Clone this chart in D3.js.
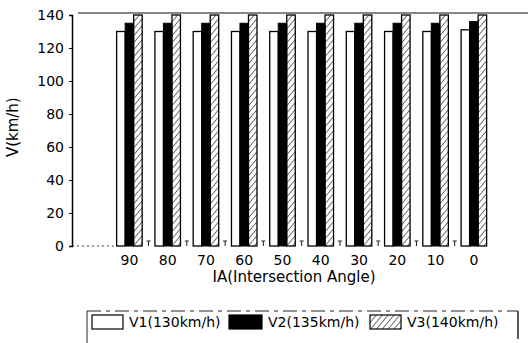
<!DOCTYPE html>
<html>
<head>
<meta charset="utf-8">
<script src="https://cdn.jsdelivr.net/npm/d3@7"></script>
<style>
    body { margin: 0; background: #fff; }
    svg { display: block; font-family: "DejaVu Sans", sans-serif; }
</style>
</head>
<body>
<div id="chart"></div>
<script>
// data
const angles = ["90", "80", "70", "60", "50", "40", "30", "20", "10", "0"];
const seriesNames = ["V1(130km/h)", "V2(135km/h)", "V3(140km/h)"];
const v1 = [130, 130, 130, 130, 130, 130, 130, 130, 130, 131];
const v2 = [135, 135, 135, 135, 135, 135, 135, 135, 135, 136];
const v3 = [140, 140, 140, 140, 140, 140, 140, 140, 140, 140];
const yTicks = [0, 20, 40, 60, 80, 100, 120, 140];

const data = angles.map((a, i) => ({ angle: a, values: [v1[i], v2[i], v3[i]] }));

const width = 528, height = 343;
const margin = { top: 15, right: 35, bottom: 97, left: 72 };

const svg = d3.select("#chart").append("svg")
    .attr("width", width)
    .attr("height", height);

// hatch pattern for V3
svg.append("defs").append("pattern")
    .attr("id", "hatch")
    .attr("patternUnits", "userSpaceOnUse")
    .attr("width", 4.5).attr("height", 4.5)
    .attr("patternTransform", "rotate(40)")
    .append("line")
    .attr("x1", 0).attr("y1", 0).attr("x2", 0).attr("y2", 4.5)
    .attr("stroke", "#000").attr("stroke-width", 1.1);

// first band is left empty, like in the original
const x0 = d3.scaleBand()
    .domain([""].concat(angles))
    .range([margin.left, width - margin.right])
    .padding(0);

const x1 = d3.scaleBand()
    .domain(d3.range(seriesNames.length))
    .range([0, x0.bandwidth()])
    .paddingInner(0)
    .paddingOuter(0.75);

const y = d3.scaleLinear()
    .domain([0, 140])
    .range([height - margin.bottom, margin.top]);

const fills = ["#fff", "#000", "url(#hatch)"];

// top frame line
svg.append("line")
    .attr("x1", margin.left + 6).attr("x2", width)
    .attr("y1", y(140) - 2).attr("y2", y(140) - 2)
    .attr("stroke", "#111").attr("stroke-width", 1.2);

// baseline (faint, dotted)
svg.append("line")
    .attr("x1", margin.left).attr("x2", x0("90") + 6)
    .attr("y1", y(0)).attr("y2", y(0))
    .attr("stroke", "#444").attr("stroke-dasharray", "2,3");

// bars
const groups = svg.selectAll(".grp")
    .data(data)
    .enter().append("g")
    .attr("class", "grp")
    .attr("transform", d => "translate(" + x0(d.angle) + ",0)");

groups.selectAll("rect")
    .data(d => d.values.map((v, i) => ({ i: i, v: v })))
    .enter().append("rect")
    .attr("x", d => x1(d.i))
    .attr("width", x1.bandwidth())
    .attr("y", d => y(d.v))
    .attr("height", d => y(0) - y(d.v))
    .attr("fill", d => fills[d.i])
    .attr("stroke", "#000")
    .attr("stroke-width", d => d.i === 1 ? 1 : 1.3);

// small tick marks between groups
svg.selectAll(".xtick")
    .data(angles.slice(0, -1))
    .enter().append("path")
    .attr("class", "xtick")
    .attr("d", d => {
        const xx = x0(d) + x0.bandwidth();
        return "M" + (xx - 2) + "," + (y(0) - 5) + "H" + (xx + 2) + "M" + xx + "," + (y(0) - 5) + "V" + y(0);
    })
    .attr("stroke", "#222").attr("fill", "none");

// x tick labels
svg.selectAll(".xlab")
    .data(angles)
    .enter().append("text")
    .attr("class", "xlab")
    .attr("x", d => x0(d) + x0.bandwidth() / 2)
    .attr("y", y(0) + 19)
    .attr("text-anchor", "middle")
    .attr("font-size", 14)
    .text(d => d);

// y axis
const yAxis = d3.axisLeft(y).tickValues(yTicks).tickSize(3).tickPadding(5);
const yg = svg.append("g")
    .attr("transform", "translate(" + margin.left + ",0)")
    .call(yAxis);
yg.select(".domain").attr("stroke", "#000").attr("stroke-width", 1.5);
yg.selectAll("text").attr("font-size", 14).attr("font-family", "DejaVu Sans").attr("fill", "#000");

// axis titles
svg.append("text")
    .attr("transform", "translate(18," + y(72) + ") rotate(-90)")
    .attr("text-anchor", "middle")
    .attr("font-size", 15)
    .text("V(km/h)");

svg.append("text")
    .attr("x", 294)
    .attr("y", 282)
    .attr("text-anchor", "middle")
    .attr("font-size", 15)
    .text("IA(Intersection Angle)");

// legend
const legend = svg.append("g");
const lx = 87, ly = 311, lr = 518;

legend.append("line")
    .attr("x1", lx).attr("x2", lr)
    .attr("y1", ly).attr("y2", ly)
    .attr("stroke", "#222").attr("stroke-dasharray", "14,5,4,5");
legend.append("line")
    .attr("x1", lx).attr("x2", lx)
    .attr("y1", ly).attr("y2", height)
    .attr("stroke", "#222");
legend.append("line")
    .attr("x1", lr).attr("x2", lr)
    .attr("y1", ly).attr("y2", height - 4)
    .attr("stroke", "#222").attr("stroke-width", 1.5);

const swatchX = [92, 229, 370];
const swatchW = [31, 33, 31];
const items = legend.selectAll(".item")
    .data(seriesNames)
    .enter().append("g")
    .attr("class", "item")
    .attr("transform", (d, i) => "translate(" + swatchX[i] + "," + (ly + 4) + ")");

items.append("rect")
    .attr("width", (d, i) => swatchW[i]).attr("height", 14)
    .attr("fill", (d, i) => fills[i])
    .attr("stroke", "#000")
    .attr("stroke-width", 1.2);

items.append("text")
    .attr("x", (d, i) => swatchW[i] + 6).attr("y", 12)
    .attr("font-size", 14)
    .text(d => d);
</script>
</body>
</html>
